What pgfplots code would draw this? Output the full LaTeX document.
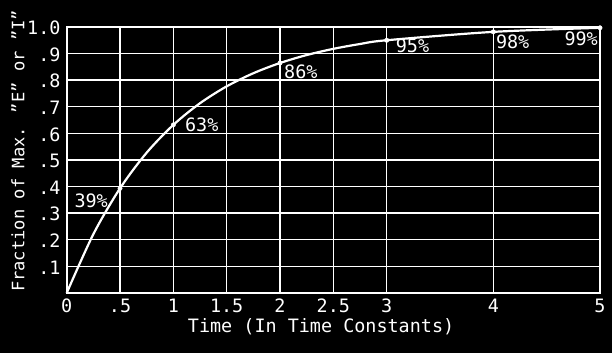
\documentclass[border=0pt]{standalone}
\usepackage{pgfplots}
\pgfplotsset{compat=1.18}
\usepackage{fontspec}
\setmainfont{DejaVu Sans Mono}
\newcommand{\lab}{\fontsize{18.5}{22}\selectfont}
\newcommand{\ylab}{\fontsize{17.2}{20}\selectfont}
\begin{document}
\begin{tikzpicture}
\fill[black] (-66.7bp,-60bp) rectangle (545.3bp,293bp);
\begin{axis}[
  at={(0,0)}, anchor=south west,
  scale only axis, width=533.3bp, height=266bp,
  xmin=0, xmax=5, ymin=0, ymax=1,
  xtick={0,0.5,1,1.5,2,2.5,3,4,5},
  xticklabels={0,.5,1,1.5,2,2.5,3,4,5},
  ytick={0.1,0.2,0.3,0.4,0.5,0.6,0.7,0.8,0.9,1.0},
  yticklabels={.1,.2,.3,.4,.5,.6,.7,.8,.9,1.0},
  grid=major,
  major grid style={white, line width=1.4bp},
  axis line style={white, line width=1.8bp},
  major tick length=0pt,
  tick label style={white, font=\lab, inner sep=0pt},
  yticklabel style={anchor=east, xshift=-6bp, yshift=-1bp},
  xticklabel style={anchor=north, yshift=-5.5bp},
  xlabel={Time (In Time Constants)},
  ylabel={Fraction of Max. "E" or "I"},
  every axis x label/.style={at={(axis description cs:0.477,-0.128)}, anchor=center, white, font=\lab},
  every axis y label/.style={at={(axis description cs:-0.0913,0.534)}, rotate=90, anchor=center, white, font=\ylab},
  clip=false,
]
\addplot[white, line width=2.2bp, smooth] coordinates {
(0,0) (0.25,0.2212) (0.5,0.3935) (0.75,0.5276) (1,0.6321) (1.25,0.7135)
(1.5,0.7769) (1.75,0.8262) (2,0.8647) (2.25,0.8946) (2.5,0.9179)
(2.75,0.9361) (3,0.9502) (4,0.9817) (5,0.997)
};
\addplot[white, only marks, mark=*, mark size=2.2bp] coordinates {
(0.5,0.3935) (1,0.6321) (2,0.8647) (3,0.9502) (4,0.9817) (5,0.997)
};
\node[white, font=\lab, inner sep=0pt, anchor=north east, xshift=-12bp, yshift=-5bp] at (axis cs:0.5,0.3935) {39\%};
\node[white, font=\lab, inner sep=0pt, anchor=west, xshift=11.5bp] at (axis cs:1,0.6321) {63\%};
\node[white, font=\lab, inner sep=0pt, anchor=north west, xshift=4bp, yshift=-2bp] at (axis cs:2,0.8647) {86\%};
\node[white, font=\lab, inner sep=0pt, anchor=north west, xshift=9bp, yshift=2bp] at (axis cs:3,0.9502) {95\%};
\node[white, font=\lab, inner sep=0pt, anchor=north west, xshift=2.5bp, yshift=-3bp] at (axis cs:4,0.9817) {98\%};
\node[white, font=\lab, inner sep=0pt, anchor=north east, xshift=-2bp, yshift=-4bp] at (axis cs:5,0.997) {99\%};
\end{axis}
\pgfresetboundingbox
\path (-66.7bp,-60bp) rectangle (545.3bp,293bp);
\end{tikzpicture}
\end{document}
